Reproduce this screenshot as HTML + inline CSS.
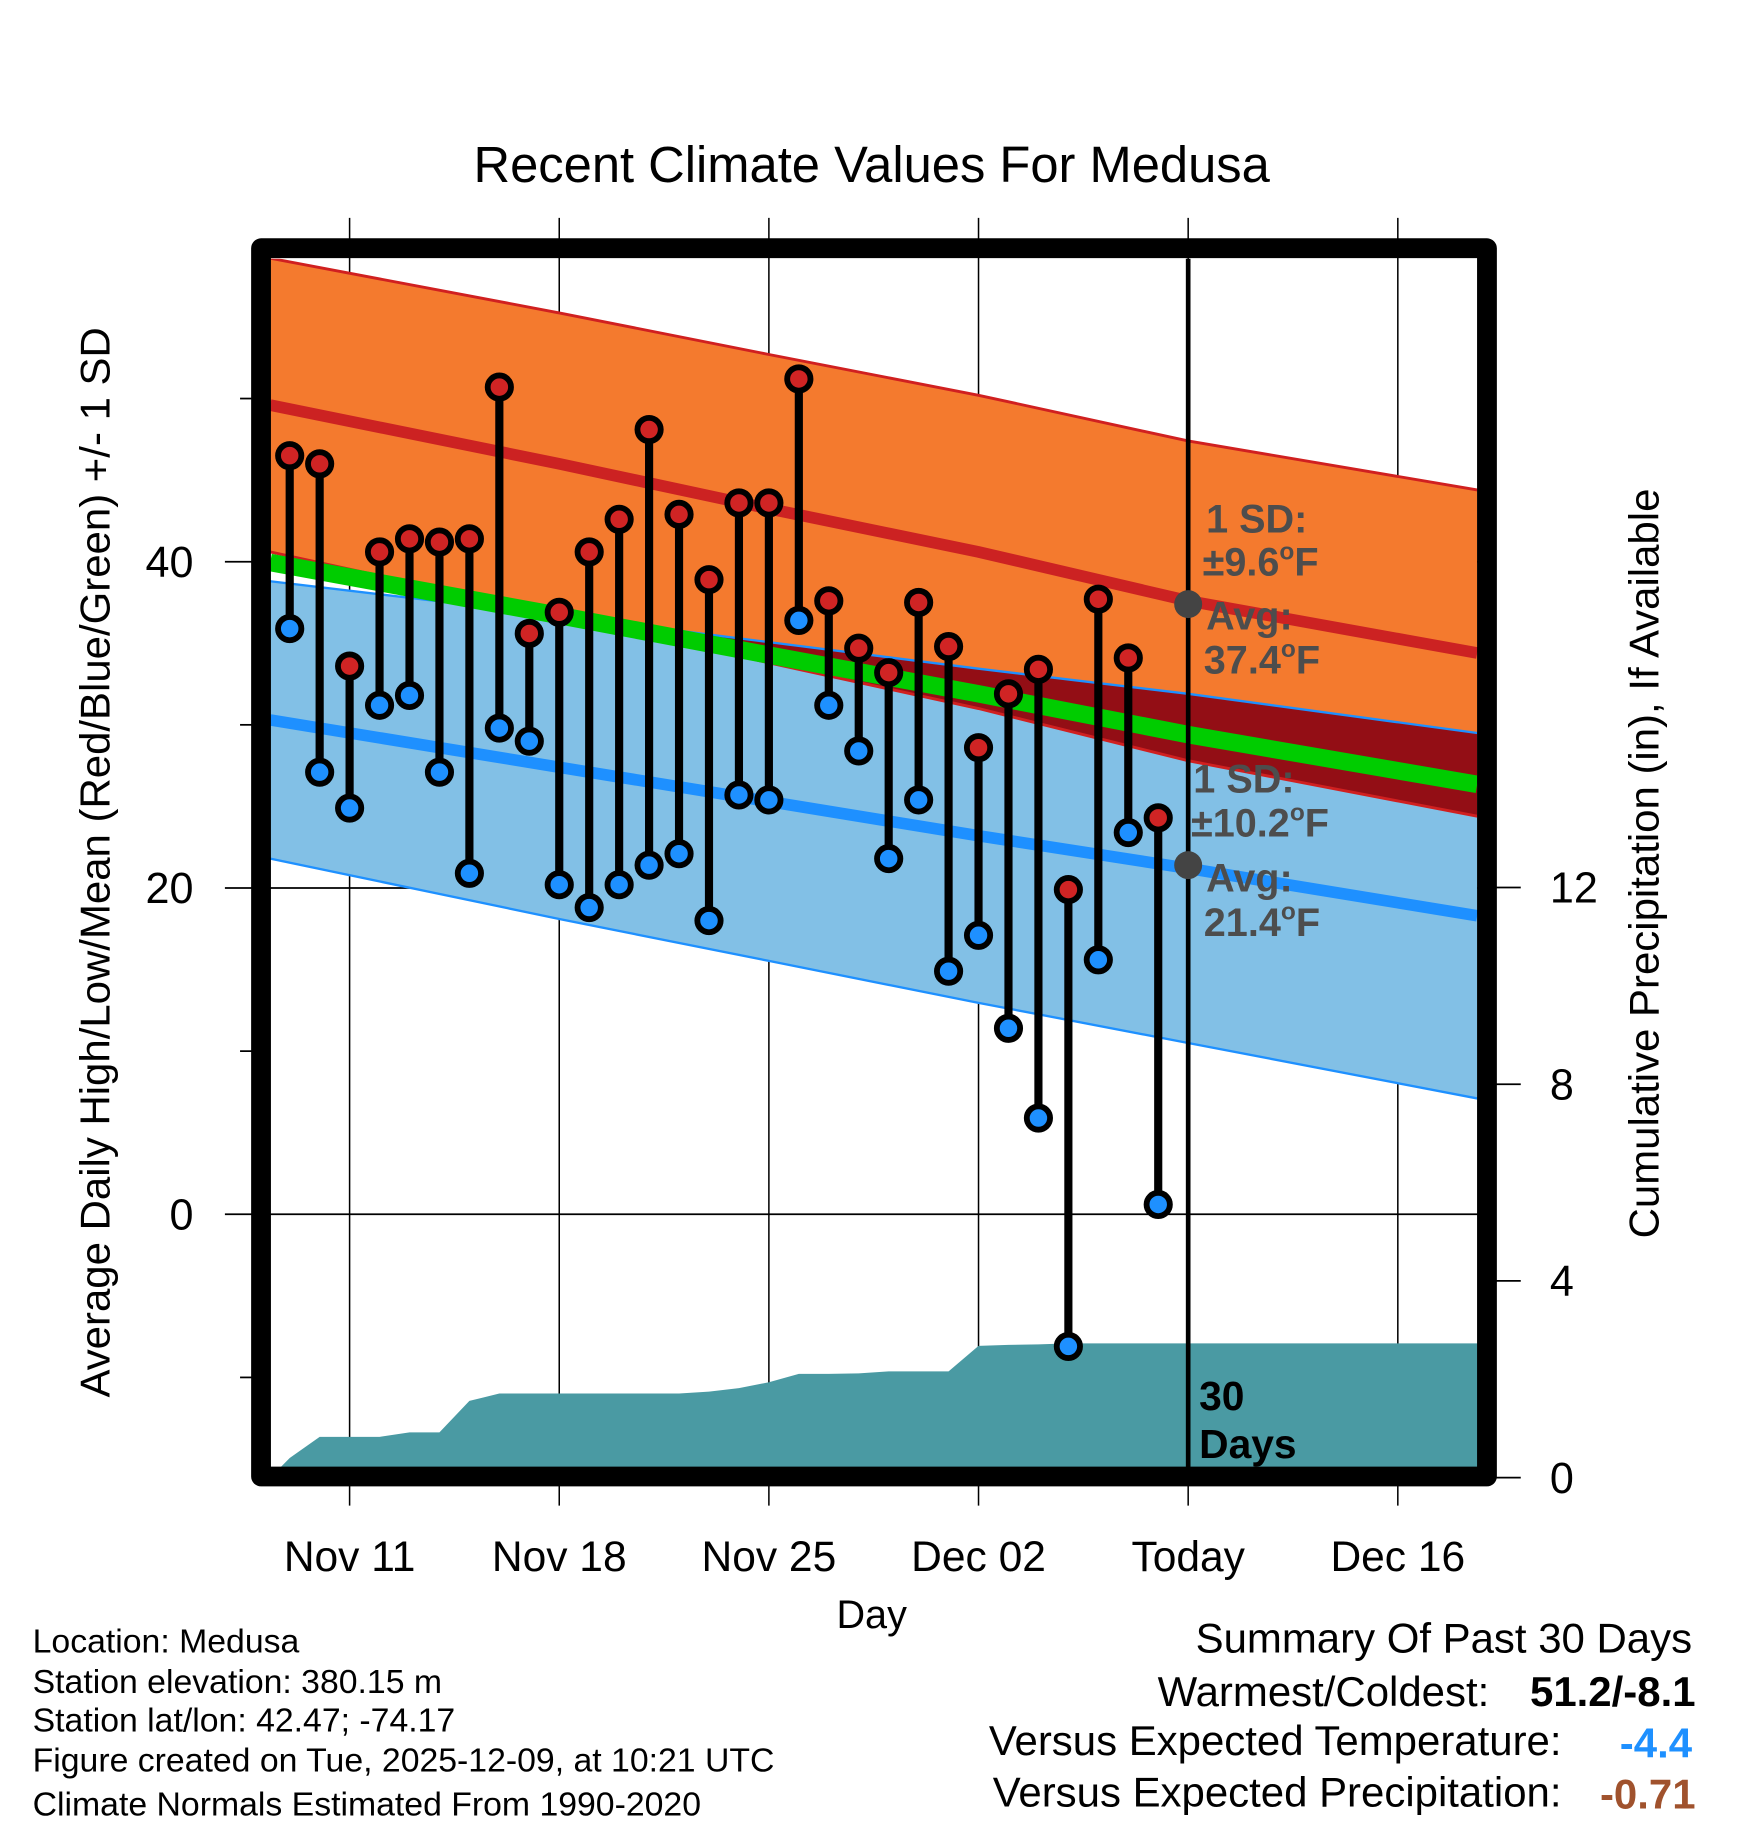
<!DOCTYPE html>
<html><head><meta charset="utf-8"><style>
html,body{margin:0;padding:0;background:#fff;}
svg{display:block;font-family:"Liberation Sans",Arial,sans-serif;}
</style></head><body>
<svg id="chart" width="1748" height="1828" viewBox="0 0 1500 1568.65" xmlns="http://www.w3.org/2000/svg">
<defs><clipPath id="plotclip"><rect x="232" y="222" width="1036" height="1038"/></clipPath>
<clipPath id="orangeclip"><path id="orangeClipPath" d=""/></clipPath></defs>
<text x="748" y="156" font-size="43.5" text-anchor="middle">Recent Climate Values For Medusa</text>
<g id="grid"></g>
<g id="bands" clip-path="url(#plotclip)"></g>
<g id="marks"></g>
<g id="annot"></g>
<rect x="224" y="213" width="1052" height="1054" fill="none" stroke="#000" stroke-width="17" stroke-linejoin="round"/>
<g id="axes"></g>
<text transform="translate(94,740) rotate(-90)" font-size="36" text-anchor="middle">Average Daily High/Low/Mean (Red/Blue/Green) +/- 1 SD</text>
<text transform="translate(1423,741) rotate(-90)" font-size="36" text-anchor="middle">Cumulative Precipitation (in), If Available</text>
<text x="748" y="1397" font-size="34" text-anchor="middle">Day</text>
<g font-size="29">
<text x="28" y="1418">Location: Medusa</text>
<text x="28" y="1453">Station elevation: 380.15 m</text>
<text x="28" y="1486">Station lat/lon: 42.47; -74.17</text>
<text x="28" y="1520">Figure created on Tue, 2025-12-09, at 10:21 UTC</text>
<text x="28" y="1558">Climate Normals Estimated From 1990-2020</text>
</g>
<g font-size="36">
<text x="1452" y="1418" text-anchor="end">Summary Of Past 30 Days</text>
<text x="1278" y="1464" text-anchor="end">Warmest/Coldest:</text>
<text x="1455" y="1464" text-anchor="end" font-weight="bold">51.2/-8.1</text>
<text x="1340" y="1506" text-anchor="end">Versus Expected Temperature:</text>
<text x="1452" y="1508" text-anchor="end" font-weight="bold" fill="#1e90ff">-4.4</text>
<text x="1340" y="1550" text-anchor="end">Versus Expected Precipitation:</text>
<text x="1455" y="1552" text-anchor="end" font-weight="bold" fill="#a0522d">-0.71</text>
</g>
</svg>
<script>
// data (day offset from Nov 11)
const dayLabels = ["Nov 11","Nov 18","Nov 25","Dec 02","Today","Dec 16"];
const dayTicks = [0,7,14,21,28,35];
const highs = [46.5,46.0,33.6,40.6,41.4,41.2,41.4,50.7,35.6,36.9,40.6,42.6,48.1,42.9,38.9,43.6,43.6,51.2,37.6,34.7,33.2,37.5,34.8,28.6,31.9,33.4,19.9,37.7,34.1,24.3];
const lows = [35.9,27.1,24.9,31.2,31.8,27.1,20.9,29.8,29.0,20.2,18.8,20.2,21.4,22.1,18.0,25.7,25.4,36.4,31.2,28.4,21.8,25.4,14.9,17.1,11.4,5.9,-8.1,15.6,23.4,0.6];
const precipCum = [0.40,0.83,0.83,0.83,0.92,0.92,1.56,1.71,1.71,1.71,1.71,1.71,1.71,1.71,1.75,1.82,1.94,2.11,2.11,2.12,2.16,2.16,2.16,2.68,2.70,2.71,2.73,2.73,2.73,2.73];
const firstDay = -2;
const normDays = [-2.65,7,14,21,28,37.65];
const highMean = [49.6,46.0,43.25,40.6,37.6,34.4];
const highSD = [9.0,9.25,9.45,9.6,9.8,10.0];
const lowMean = [30.3,27.4,25.3,23.2,21.2,18.3];
const lowSD = [8.5,9.3,9.77,10.24,10.7,11.2];
const yTicks = [40,20,0];
const yMinor = [50,30,10,-10];
const y2Ticks = [0,4,8,12];

const NS="http://www.w3.org/2000/svg";
const X = d => 300 + d*25.7;
const Y = t => 1042 - t*14;
const Y2 = p => 1268 - p*42.2;
const xL=232,xR=1268;
function mk(tag,attrs,parent){const e=document.createElementNS(NS,tag);for(const k in attrs)e.setAttribute(k,attrs[k]);parent.appendChild(e);return e;}
const grid=document.getElementById('grid'),bands=document.getElementById('bands'),marks=document.getElementById('marks'),axes=document.getElementById('axes'),annot=document.getElementById('annot');
function line(vals){return normDays.map((d,i)=>X(d)+','+Y(vals(i))).join(' ');}
function band(up,lo){const a=normDays.map((d,i)=>X(d)+','+Y(up(i)));const b=normDays.map((d,i)=>X(d)+','+Y(lo(i))).reverse();return 'M'+a.join(' L')+' L'+b.join(' L')+'Z';}
const bandB=band(i=>lowMean[i]+lowSD[i],i=>lowMean[i]-lowSD[i]);
const bandO=band(i=>highMean[i]+highSD[i],i=>highMean[i]-highSD[i]);
let e;
e=mk('path',{d:bandB,fill:'#82c0e6'},bands);

e=mk('path',{d:bandO,fill:'#f47a2e'},bands);

document.getElementById('orangeClipPath').setAttribute('d',bandO);
e=mk('path',{d:bandB,fill:'#930e15','clip-path':'url(#orangeclip)'},bands);

[[i=>highMean[i]+highSD[i],'#d02020',2.5,'high-upper-sd'],[i=>highMean[i]-highSD[i],'#d02020',2.5,'high-lower-sd'],[i=>lowMean[i]+lowSD[i],'#1e90ff',2,'low-upper-sd'],[i=>lowMean[i]-lowSD[i],'#1e90ff',2,'low-lower-sd']].forEach(s=>{
 e=mk('polyline',{points:line(s[0]),fill:'none',stroke:s[1],'stroke-width':s[2]},bands);
 
});
e=mk('polyline',{points:line(i=>(highMean[i]+lowMean[i])/2),fill:'none',stroke:'#00cc00','stroke-width':15},bands);

e=mk('polyline',{points:line(i=>highMean[i]),fill:'none',stroke:'#cc2222','stroke-width':10},bands);

e=mk('polyline',{points:line(i=>lowMean[i]),fill:'none',stroke:'#1e90ff','stroke-width':10},bands);

let pp='M'+xL+','+Y2(0);
precipCum.forEach((p,i)=>{pp+=' L'+X(firstDay+i)+','+Y2(p);});
pp+=' L'+xR+','+Y2(precipCum[precipCum.length-1])+' L'+xR+','+Y2(0)+'Z';
e=mk('path',{d:pp,fill:'#4a9aa3'},bands);

yTicks.forEach(t=>{e=mk('line',{x1:193,x2:xR,y1:Y(t),y2:Y(t),stroke:'#000','stroke-width':1.5},grid);
 
 e=mk('text',{x:166,y:Y(t)+13,'font-size':37,'text-anchor':'end'},axes);e.textContent=t;
 });
yMinor.forEach(t=>{e=mk('line',{x1:206,x2:216,y1:Y(t),y2:Y(t),stroke:'#000','stroke-width':1.5},axes);
 });
y2Ticks.forEach(p=>{e=mk('line',{x1:1284,x2:1305,y1:Y2(p),y2:Y2(p),stroke:'#000','stroke-width':1.5},axes);
 
 e=mk('text',{x:1330,y:Y2(p)+13,'font-size':37},axes);e.textContent=p;
 });
dayTicks.forEach((d,i)=>{e=mk('line',{x1:X(d),x2:X(d),y1:187,y2:1292,stroke:'#000','stroke-width':1.3},grid);
 
 e=mk('text',{x:X(d),y:1348,'font-size':36.5,'text-anchor':'middle'},axes);e.textContent=dayLabels[i];
 });
e=mk('line',{x1:X(28),x2:X(28),y1:222,y2:1260,stroke:'#000','stroke-width':4},marks);

highs.forEach((h,i)=>{const x=X(firstDay+i);
 e=mk('line',{x1:x,x2:x,y1:Y(h),y2:Y(lows[i]),stroke:'#000','stroke-width':7},marks);
 
 e=mk('circle',{cx:x,cy:Y(h),r:10,fill:'#d02424',stroke:'#000','stroke-width':5},marks);
 
 e=mk('circle',{cx:x,cy:Y(lows[i]),r:10,fill:'#1e90ff',stroke:'#000','stroke-width':5},marks);
 });
function ann(txt,x,y,name,fs,col,bold){const t=mk('text',{x:x,y:y,'font-size':fs,fill:col,'font-weight':bold?'bold':'normal'},annot);t.innerHTML=txt;
 }
e=mk('circle',{cx:X(28),cy:Y(37.4),r:12,fill:'#444'},annot);

e=mk('circle',{cx:X(28),cy:Y(21.4),r:12,fill:'#444'},annot);

const g='#4d4d4d';
const deg='<tspan font-size="21" dy="-14">o</tspan><tspan dy="14">F</tspan>';
ann('1 SD:',1035,457,'high-sd-label',34,g,true);
ann('±9.6'+deg,1032,494,'high-sd-value',34,g,true);
ann('Avg:',1035,540,'high-avg-label',34,g,true);
ann('37.4'+deg,1033,578,'high-avg-value',34,g,true);
ann('1 SD:',1024,680,'low-sd-label',34,g,true);
ann('±10.2'+deg,1022,718,'low-sd-value',34,g,true);
ann('Avg:',1035,765,'low-avg-label',34,g,true);
ann('21.4'+deg,1033,803,'low-avg-value',34,g,true);
ann('30',1029,1210,'days-label',35,'#000',true);
ann('Days',1029,1251,'days-label-2',35,'#000',true);
</script>
</body></html>
